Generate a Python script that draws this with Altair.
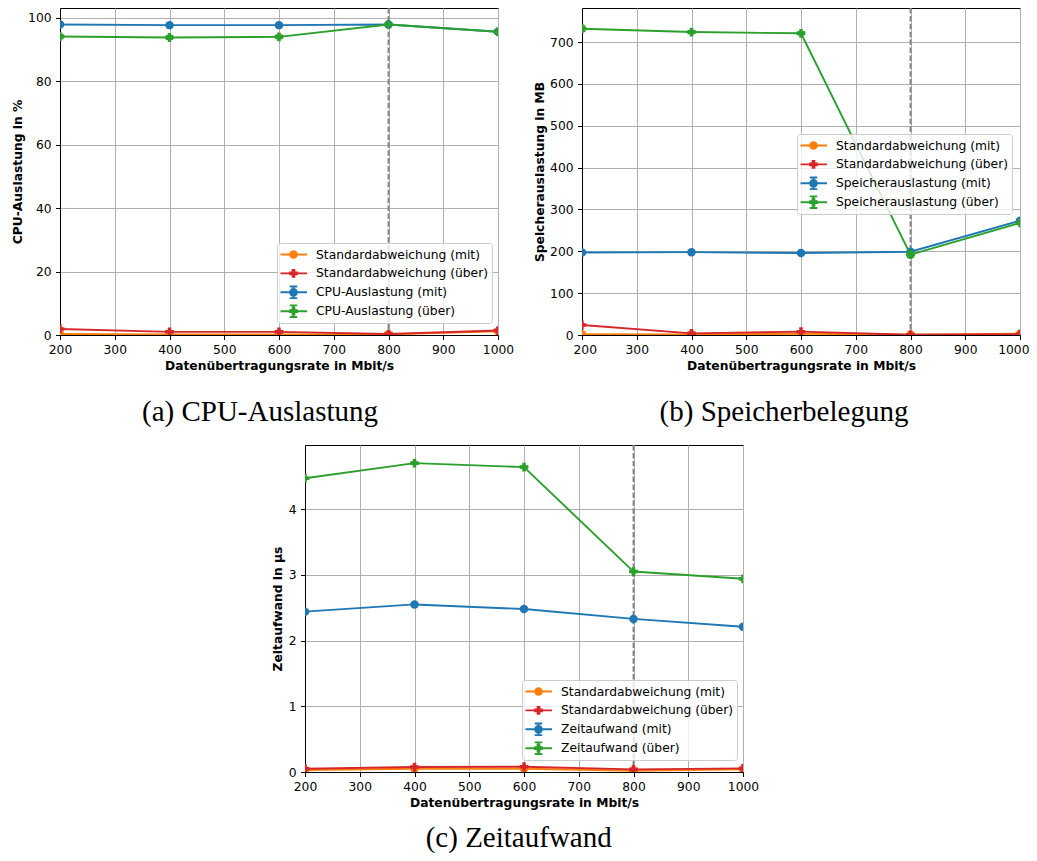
import altair as alt
import pandas as pd

# ---------------- data ----------------
X = [200, 400, 600, 800, 1000]
X_TICKS = [200, 300, 400, 500, 600, 700, 800, 900, 1000]
MARK_X = [800]
X_TITLE = "Datenübertragungsrate in Mbit/s"

# (a) CPU-Auslastung
CPU_NAMES = ["Standardabweichung (mit)", "Standardabweichung (über)",
             "CPU-Auslastung (mit)", "CPU-Auslastung (über)"]
cpu_std_mit = [0.3, 0.2, 0.2, 0.2, 1.2]
cpu_std_ueber = [1.9, 1.0, 1.0, 0.3, 1.4]
cpu_mit = [97.9, 97.7, 97.7, 97.9, 95.6]
cpu_ueber = [94.1, 93.8, 94.0, 97.9, 95.6]
cpu_err_mit = [0.3, 0.2, 0.2, 0.2, 0.4]
cpu_err_ueber = [0.6, 0.5, 0.5, 0.3, 0.5]
CPU_YTICKS = [0, 20, 40, 60, 80, 100]
CPU_YMAX = 103.1

# (b) Speicherbelegung
MEM_NAMES = ["Standardabweichung (mit)", "Standardabweichung (über)",
             "Speicherauslastung (mit)", "Speicherauslastung (über)"]
mem_std_mit = [2, 1.5, 3, 1, 3]
mem_std_ueber = [24, 4, 8, 0.5, 2]
mem_mit = [197, 198, 196, 199, 273]
mem_ueber = [732, 724, 721, 192, 268]
mem_err_mit = [2, 1.5, 2, 1, 3]
mem_err_ueber = [6, 3, 3, 6, 3]
MEM_YTICKS = [0, 100, 200, 300, 400, 500, 600, 700]
MEM_YMAX = 781.5

# (c) Zeitaufwand
TIME_NAMES = ["Standardabweichung (mit)", "Standardabweichung (über)",
              "Zeitaufwand (mit)", "Zeitaufwand (über)"]
time_std_mit = [0.03, 0.05, 0.05, 0.02, 0.04]
time_std_ueber = [0.05, 0.075, 0.08, 0.04, 0.055]
time_mit = [2.44, 2.55, 2.48, 2.33, 2.21]
time_ueber = [4.47, 4.70, 4.64, 3.05, 2.94]
time_err_mit = [0.01, 0.01, 0.01, 0.01, 0.01]
time_err_ueber = [0.01, 0.01, 0.01, 0.01, 0.01]
TIME_YTICKS = [0, 1, 2, 3, 4]
TIME_YMAX = 4.976

# ---------------- style ----------------
COLORS = ["#ff7f0e", "#d62728", "#1f77b4", "#2ca02c"]
SHAPES = ["circle", "cross", "circle", "cross"]
SIZES = [72, 77, 72, 77]
GRAY = "#808080"
FONT = "DejaVu Sans"
FS = 12.3

LINE = "M-2.7,0H2.7"
CIRC = "M0.68,0A0.68,0.68,0,1,1,-0.68,0A0.68,0.68,0,1,1,0.68,0Z"
PLUS = "M-0.18,-0.68H0.18V-0.18H0.68V0.18H0.18V0.68H-0.18V0.18H-0.68V-0.18H-0.18Z"
EBAR = "M0,-1.17V1.17M-0.75,-1.17H0.75M-0.75,1.17H0.75"
PATHS = [LINE + CIRC, LINE + PLUS, LINE + EBAR + CIRC, LINE + EBAR + PLUS]

W = 438
H = 327


def make_panel(names, vals, errs, yticks, ymax, ytitle, leg_xy, caption,
               cap_dx, cap_off, flush=False):
    xs = alt.Scale(domain=[200, 1000], nice=False, zero=False)
    ys = alt.Scale(domain=[0, ymax], nice=False, zero=False)
    if flush:
        xax = alt.Axis(values=X_TICKS, title=X_TITLE, grid=True, labelFlush=True,
                       labelFlushOffset=9, labelOverlap=False, format="d")
    else:
        xax = alt.Axis(values=X_TICKS, title=X_TITLE, grid=True, labelFlush=False,
                       labelOverlap=False, format="d")
    yax = alt.Axis(values=yticks, title=ytitle, grid=True, labelOverlap=False,
                   format="d")

    def xe():
        return alt.X("x:Q", scale=xs, axis=xax)

    def ye(f):
        return alt.Y(f"{f}:Q", scale=ys, axis=yax)

    layers = [
        alt.Chart(pd.DataFrame({"x": MARK_X}))
        .mark_rule(color=GRAY, strokeDash=[5.5, 2.4], strokeWidth=1.8)
        .encode(x=xe())
    ]
    for i, (v, e) in enumerate(zip(vals, errs)):
        df = pd.DataFrame({"x": X, "y": v})
        if e is not None:
            df["lo"] = [a - b for a, b in zip(v, e)]
            df["hi"] = [a + b for a, b in zip(v, e)]
        base = alt.Chart(df)
        if e is not None:
            layers.append(
                base.mark_rule(color=COLORS[i], strokeWidth=1.9, clip=True)
                .encode(x=xe(), y=ye("lo"), y2="hi:Q"))
            for f in ["lo", "hi"]:
                layers.append(
                    base.mark_tick(orient="horizontal", color=COLORS[i], size=7,
                                   thickness=1.9, opacity=1, clip=True)
                    .encode(x=xe(), y=ye(f)))
        layers.append(
            base.mark_line(color=COLORS[i], strokeWidth=1.9, clip=True)
            .encode(x=xe(), y=ye("y")))
        layers.append(
            base.mark_point(filled=True, opacity=1, color=COLORS[i],
                            shape=SHAPES[i], size=SIZES[i], clip=True)
            .encode(x=xe(), y=ye("y")))

    leg = alt.Legend(
        orient="none", legendX=leg_xy[0], legendY=leg_xy[1], title=None,
        fillColor="rgba(255,255,255,0.8)", strokeColor="#cccccc",
        cornerRadius=3, padding=3.5, clipHeight=16, rowPadding=2.9,
        labelFont=FONT, labelFontSize=FS, labelColor="black", labelLimit=400,
        symbolSize=100, symbolStrokeWidth=1.9, symbolOffset=6.85,
        labelOffset=16.35,
    )
    legend_layer = (
        alt.Chart(pd.DataFrame({"s": names}))
        .transform_filter("false")
        .mark_point(filled=True, opacity=1)
        .encode(
            fill=alt.Fill("s:N", scale=alt.Scale(domain=names, range=COLORS), legend=leg),
            stroke=alt.Stroke("s:N", scale=alt.Scale(domain=names, range=COLORS), legend=leg),
            shape=alt.Shape("s:N", scale=alt.Scale(domain=names, range=PATHS), legend=leg),
        )
    )
    layers.append(legend_layer)

    return alt.layer(*layers).properties(
        width=W, height=H,
        title=alt.TitleParams(
            text=caption, orient="bottom", anchor="middle", frame="group",
            font="Liberation Serif", fontSize=29, fontWeight="normal",
            color="black", offset=cap_off, dx=cap_dx),
    )


pa = make_panel(CPU_NAMES, [cpu_std_mit, cpu_std_ueber, cpu_mit, cpu_ueber],
                [None, None, cpu_err_mit, cpu_err_ueber],
                CPU_YTICKS, CPU_YMAX, "CPU-Auslastung in %", (217, 235),
                "(a) CPU-Auslastung", -19, 25.5)
pb = make_panel(MEM_NAMES, [mem_std_mit, mem_std_ueber, mem_mit, mem_ueber],
                [None, None, mem_err_mit, mem_err_ueber],
                MEM_YTICKS, MEM_YMAX, "Speicherauslastung in MB", (215, 126),
                "(b) Speicherbelegung", -17, 25.5, flush=True)
pc = make_panel(TIME_NAMES, [time_std_mit, time_std_ueber, time_mit, time_ueber],
                [None, None, time_err_mit, time_err_ueber],
                TIME_YTICKS, TIME_YMAX, "Zeitaufwand in μs", (217, 235),
                "(c) Zeitaufwand", -5.3, 15)

spacer = (alt.Chart(pd.DataFrame({"v": [0]})).mark_point(opacity=0)
          .properties(width=161, height=H,
                      view=alt.ViewBackground(stroke="transparent")))

RES = dict(x="independent", y="independent", fill="independent",
           stroke="independent", shape="independent")
LRES = dict(fill="independent", stroke="independent", shape="independent")

row1 = (alt.hconcat(pa, pb, spacing=84, bounds="flush")
        .resolve_scale(**RES).resolve_legend(**LRES))
row2 = (alt.hconcat(spacer, pc, spacing=84, bounds="flush")
        .resolve_scale(**RES).resolve_legend(**LRES))

chart = (
    alt.vconcat(row1, row2, spacing=437, bounds="flush")
    .resolve_scale(**RES).resolve_legend(**LRES)
    .properties(
        autosize=alt.AutoSizeParams(type="none"),
        padding={"left": 52, "top": 0, "right": 969, "bottom": 845},
    )
    .configure_view(stroke="black", strokeWidth=1)
    .configure_axis(
        domainColor="black", domainWidth=1, tickColor="black", tickSize=4.5,
        tickWidth=1, gridColor="#b0b0b0", gridWidth=1,
        labelFont=FONT, labelFontSize=FS, labelColor="black", labelPadding=4.4,
        titleFont=FONT, titleFontSize=FS, titleFontWeight="bold",
        titleColor="black", titlePadding=3.5,
    )
)

chart.save("out.html", embed_options={"renderer": "svg", "actions": False})
